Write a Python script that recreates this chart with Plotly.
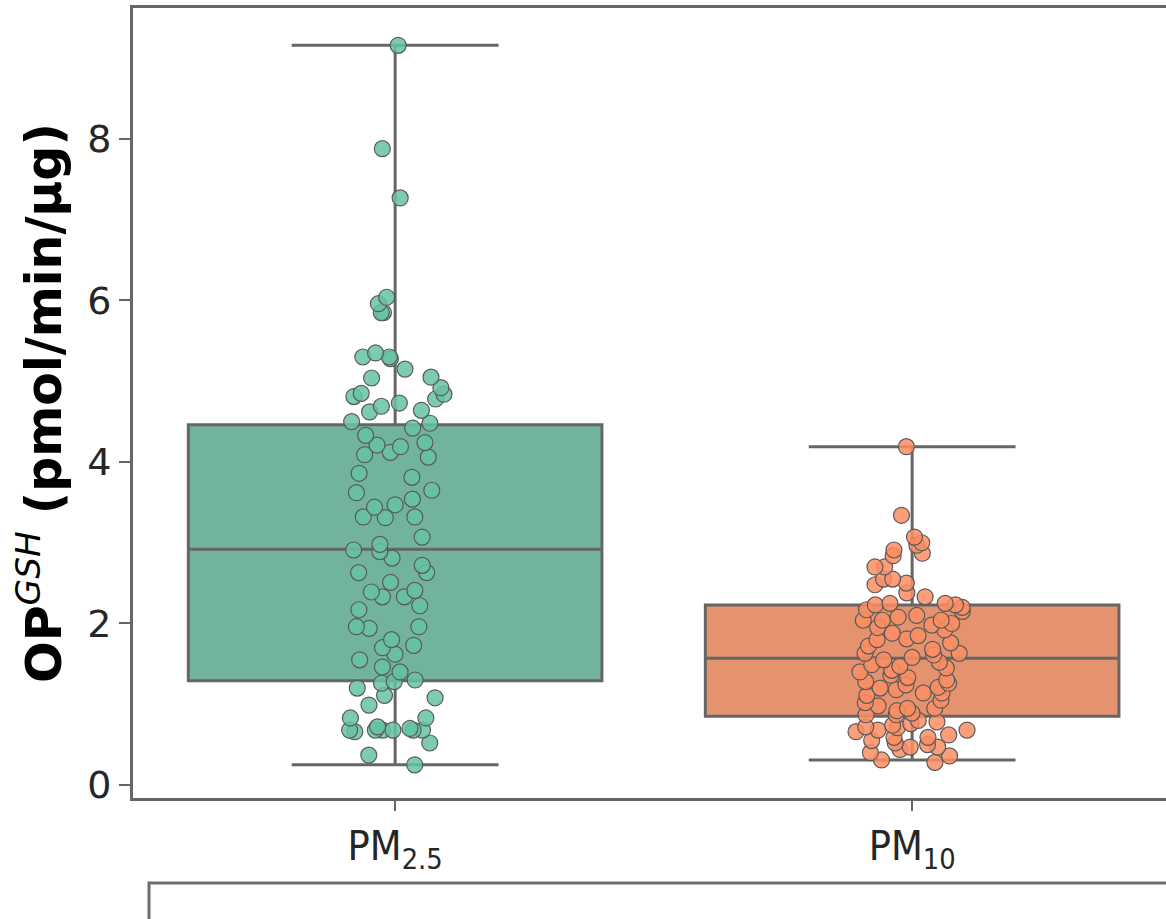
import plotly.graph_objects as go

# ---------------- data ----------------
categories = ["PM2.5", "PM10"]
tick_labels = ["PM<sub>2.5</sub>", "PM<sub>10</sub>"]

pm25_values = [
    9.16, 7.88, 7.27, 6.04, 5.96, 5.85, 5.85, 5.35, 5.28, 5.15, 5.04, 5.30, 5.30,
    5.05, 4.84, 4.85, 4.92, 4.73, 4.81, 4.69, 4.62, 4.64, 4.50, 4.42, 4.48, 4.33,
    4.21, 4.19, 4.24, 4.09, 4.12, 4.06, 3.81, 3.86, 3.65, 3.62, 3.47, 3.54, 3.44,
    3.32, 3.31, 3.32, 3.07, 2.89, 2.91, 2.81, 2.72, 2.63, 2.63, 2.51, 2.41, 2.33,
    2.39, 2.33, 2.22, 2.17, 1.96, 1.96, 1.94, 1.80, 1.73, 1.70, 1.55, 1.46, 1.40,
    1.30, 1.28, 1.20, 1.26, 1.11, 1.08, 0.99, 0.83, 0.83, 0.68, 0.68, 0.68, 0.68,
    0.68, 0.68, 0.52, 0.37, 0.25, 0.70, 0.66, 0.72, 4.78, 2.98, 1.62,
]
pm10_values = [
    4.19, 3.34, 3.07, 3.00, 2.97, 2.91, 2.87, 2.84, 2.70, 2.70, 2.55, 2.55, 2.50,
    2.48, 2.38, 2.33, 2.25, 2.25, 2.23, 2.23, 2.20, 2.17, 2.04, 2.04, 2.04, 2.00,
    1.88, 1.81, 1.80, 1.63, 1.63, 1.61, 1.49, 1.42, 1.40, 1.28, 1.24, 1.21, 1.20,
    1.14, 1.14, 1.11, 0.95, 0.95, 0.89, 0.87, 0.87, 0.74, 0.72, 0.71, 0.68, 0.68,
    0.66, 0.59, 0.59, 0.52, 0.47, 0.47, 0.40, 0.31, 0.28,
    2.15, 2.10, 2.08, 1.98, 1.95, 1.92, 1.85, 1.76, 1.72, 1.68, 1.58, 1.55, 1.52,
    1.47, 1.45, 1.36, 1.33, 1.30, 1.26, 1.18, 1.05, 1.02, 0.98, 0.92, 0.80, 0.78,
    0.76, 0.62, 0.55, 0.50, 0.44, 0.36,
]

# box statistics
q1_vals = [1.29, 0.85]
median_vals = [2.92, 1.57]
q3_vals = [4.46, 2.23]
lower_whisker = [0.25, 0.31]
upper_whisker = [9.16, 4.19]

y_ticks = [0, 2, 4, 6, 8]

# ---------------- style ----------------
box_fill = ["#72b39e", "#e5936f"]
point_fill = ["rgba(102,194,165,0.85)", "rgba(252,141,98,0.85)"]
edge = "#666666"
font_family = "DejaVu Sans"
narrow_family = "Liberation Sans Narrow, DejaVu Sans Condensed, DejaVu Sans"

fig = go.Figure()

all_values = [pm25_values, pm10_values]
for i, cat in enumerate(categories):
    fig.add_trace(go.Box(
        x=[cat], q1=[q1_vals[i]], median=[median_vals[i]], q3=[q3_vals[i]],
        lowerfence=[lower_whisker[i]], upperfence=[upper_whisker[i]],
        width=0.8,
        fillcolor=box_fill[i], line=dict(color=edge, width=3),
        whiskerwidth=0.5, boxpoints=False, showlegend=False, hoverinfo="skip",
    ))

for i, cat in enumerate(categories):
    vals = all_values[i]
    fig.add_trace(go.Box(
        x=[cat] * len(vals), y=vals, width=0.8,
        boxpoints="all", jitter=0.3, pointpos=0,
        fillcolor="rgba(0,0,0,0)", line=dict(width=0, color="rgba(0,0,0,0)"),
        marker=dict(size=16, color=point_fill[i],
                    line=dict(color="#5a5a5a", width=1.2)),
        showlegend=False,
    ))

W, H = 1166, 919
ml, mt, mb, mr = 133, 8, 121, 0
plot_w = W - ml - mr
plot_h = H - mt - mb

fig.update_layout(
    width=W, height=H,
    margin=dict(l=ml, r=mr, t=mt, b=mb),
    paper_bgcolor="white", plot_bgcolor="white",
    boxmode="overlay", boxgap=0.2, boxgroupgap=0,
    font=dict(family=font_family, color="#262626"),
    xaxis=dict(
        type="category", categoryorder="array", categoryarray=categories,
        range=[-0.507, 1.491],
        tickvals=categories, ticktext=tick_labels,
        tickfont=dict(size=41, family=narrow_family),
        ticks="outside", ticklen=10, tickwidth=2, tickcolor=edge,
        showline=True, linecolor=edge, linewidth=3, mirror=True,
        showgrid=False, zeroline=False,
    ),
    yaxis=dict(
        range=[-0.161, 9.622],
        tickvals=y_ticks, ticktext=[str(t) for t in y_ticks],
        tickfont=dict(size=38),
        ticks="outside", ticklen=11, tickwidth=2, tickcolor=edge,
        showline=True, linecolor=edge, linewidth=3, mirror=False,
        showgrid=False, zeroline=False,
    ),
)

# y-axis title as annotation (rotated)
fig.add_annotation(
    text="<b>OP</b><sup><i>GSH</i></sup><b> (pmol/min/µg)</b>",
    xref="paper", yref="paper",
    x=(40 - ml) / plot_w, y=0.5,
    textangle=-90, showarrow=False,
    font=dict(size=49, color="black", family=font_family),
    xanchor="center", yanchor="middle",
)

# partially visible box below the chart
fig.add_shape(
    type="rect", xref="paper", yref="paper",
    x0=(149 - ml) / plot_w, x1=1.02,
    y0=(H - mb - 883) / plot_h, y1=(H - mb - 960) / plot_h,
    line=dict(color="#6e6e6e", width=3), fillcolor="rgba(0,0,0,0)",
    layer="above",
)

fig.write_html(
    "out.html",
    config={"displayModeBar": False},
    post_script="document.body.style.margin='0';document.body.style.overflow='hidden';",
)
